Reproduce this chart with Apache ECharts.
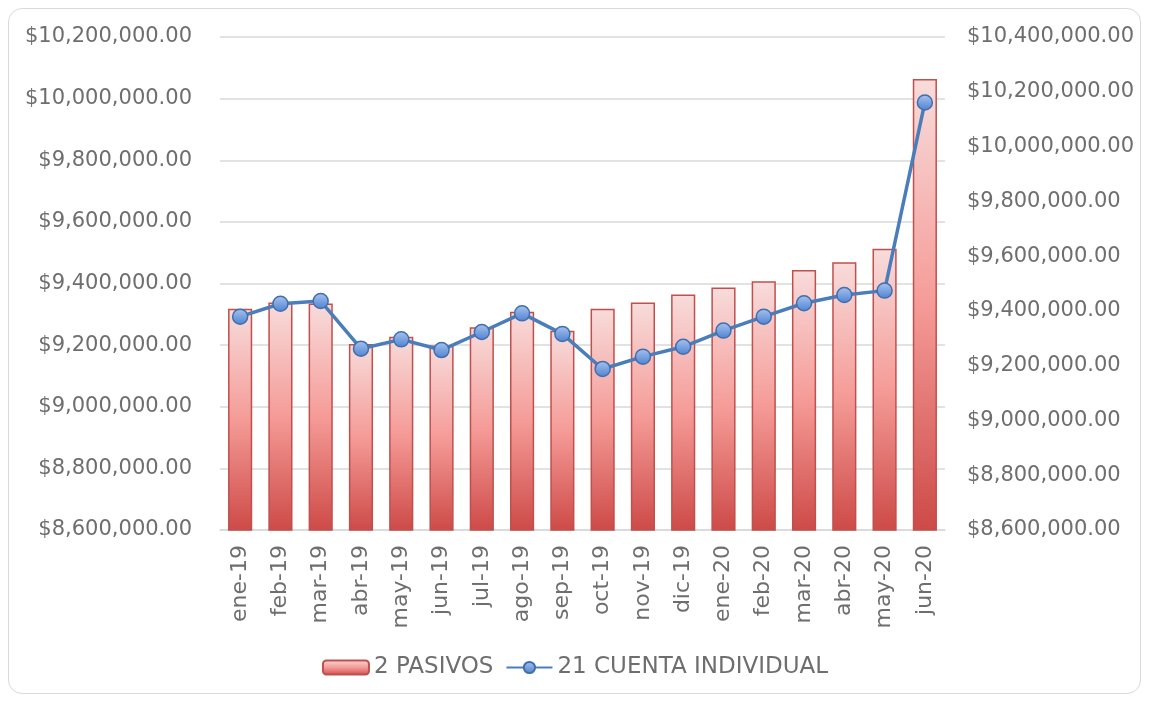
<!DOCTYPE html>
<html>
<head>
<meta charset="utf-8">
<script src="https://cdn.jsdelivr.net/npm/echarts@6/dist/echarts.min.js"></script>
<style>
  html, body { margin: 0; padding: 0; background: #fff; }
  #frame { position: absolute; left: 8px; top: 8px; width: 1133px; height: 686px;
           border: 1.5px solid #d9d9d9; border-radius: 14px; box-sizing: border-box; }
  #main { position: absolute; left: 0; top: 0; width: 1150px; height: 703px; }
</style>
</head>
<body>
<div id="frame"></div>
<div id="main"></div>
<script>
const meses = ['ene-19','feb-19','mar-19','abr-19','may-19','jun-19','jul-19','ago-19','sep-19',
               'oct-19','nov-19','dic-19','ene-20','feb-20','mar-20','abr-20','may-20','jun-20'];
const pasivos = [9318000, 9338000, 9335000, 9204000, 9227000, 9199000, 9258000, 9308000, 9247000,
                 9318000, 9338000, 9364000, 9387000, 9407000, 9444000, 9469000, 9513000, 10064000];
const cuentaIndividual = [9379000, 9426000, 9436000, 9262000, 9296000, 9257000, 9323000, 9391000, 9316000,
                          9188000, 9233000, 9269000, 9328000, 9379000, 9428000, 9458000, 9474000, 10161000];

window.addEventListener("load", function () {
    let chart = echarts.init(document.getElementById('main'));
    let fuente = "DejaVu Sans";
    let gris = '#6e6e6e';

    function dinero(v) {
        let s = Math.round(v).toString().replace(/\B(?=(\d{3})+(?!\d))/g, ',');
        return '$' + s + '.00';
    }

    let option = {
        animation: false,
        textStyle: { fontFamily: fuente },
        grid: { left: 220, right: 205, top: 37, bottom: 173 },
        legend: {
            bottom: 19,
            left: 'center',
            itemGap: 12,
            itemWidth: 46,
            itemHeight: 14,
            textStyle: { color: gris, fontSize: 23, fontFamily: fuente },
            data: ['2 PASIVOS', '21 CUENTA INDIVIDUAL']
        },
        xAxis: {
            type: 'category',
            data: meses,
            axisLine: { lineStyle: { color: '#d9d9d9', width: 1.5 } },
            axisTick: { show: false },
            axisLabel: { rotate: 90, color: gris, fontSize: 22, margin: 15, fontFamily: fuente }
        },
        yAxis: [{
            type: 'value',
            min: 8600000, max: 10200000, interval: 200000,
            axisLine: { show: false },
            axisTick: { show: false },
            splitLine: { lineStyle: { color: '#d9d9d9', width: 1.5 } },
            axisLabel: { color: gris, fontSize: 21, margin: 28, formatter: dinero, fontFamily: fuente }
        }, {
            type: 'value',
            min: 8600000, max: 10400000, interval: 200000,
            axisLine: { show: false },
            axisTick: { show: false },
            splitLine: { show: false },
            axisLabel: { color: gris, fontSize: 21, margin: 22, formatter: dinero, fontFamily: fuente }
        }],
        series: [{
            name: '2 PASIVOS',
            type: 'bar',
            yAxisIndex: 0,
            barWidth: '60%',
            data: pasivos,
            itemStyle: {
                color: new echarts.graphic.LinearGradient(0, 0, 0, 1, [
                    { offset: 0, color: '#f7dcdb' },
                    { offset: 0.5, color: '#f59b97' },
                    { offset: 1, color: '#cd4a47' }
                ]),
                borderColor: '#c0504d',
                borderWidth: 1.5
            }
        }, {
            name: '21 CUENTA INDIVIDUAL',
            type: 'line',
            yAxisIndex: 1,
            data: cuentaIndividual,
            symbol: 'circle',
            symbolSize: 15,
            lineStyle: { color: '#4a7ebb', width: 3.5 },
            itemStyle: {
                color: new echarts.graphic.LinearGradient(0, 0, 0, 1, [
                    { offset: 0, color: '#a9c4ef' },
                    { offset: 1, color: '#4f81d0' }
                ]),
                borderColor: '#3f6fae',
                borderWidth: 1.5
            }
        }]
    };

    chart.setOption(option);
}, false);
</script>
</body>
</html>
